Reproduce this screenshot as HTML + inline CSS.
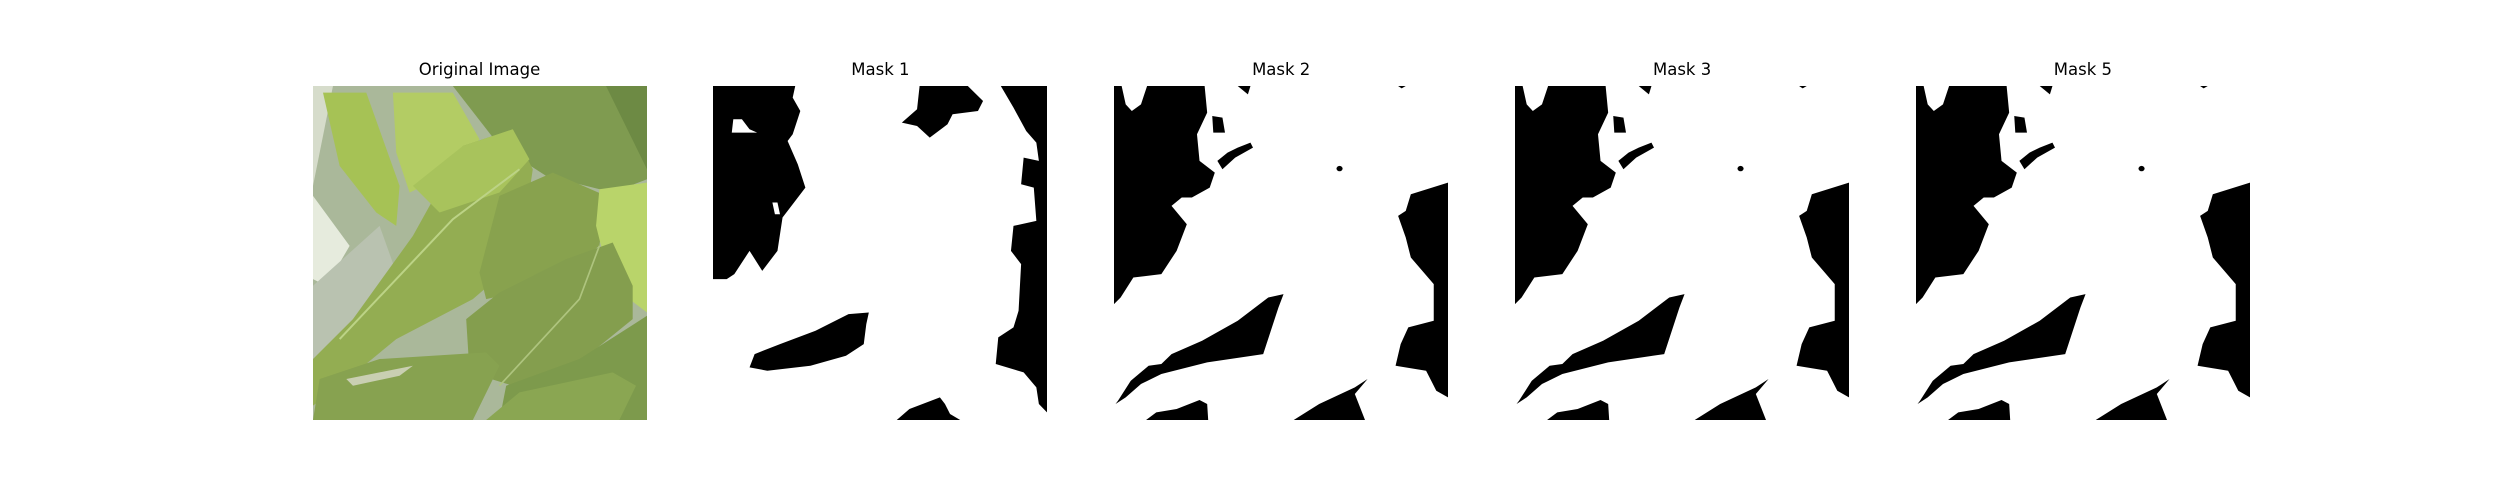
<!DOCTYPE html>
<html><head><meta charset="utf-8"><style>
html,body{margin:0;padding:0;background:#fff;}
#fig{position:relative;width:2500px;height:500px;background:#fff;overflow:hidden;font-family:"Liberation Sans","DejaVu Sans",sans-serif;}
.title{position:absolute;top:60px;width:334px;text-align:center;font-size:16.5px;color:#000;font-family:"DejaVu Sans","Liberation Sans",sans-serif;}
.panel{position:absolute;top:85.5px;width:334px;height:334px;}
</style></head><body>
<div id="fig">

<div class="title" style="left:312.5px">Original Image</div>
<div class="title" style="left:713.4px">Mask 1</div>
<div class="title" style="left:1114.2px">Mask 2</div>
<div class="title" style="left:1515.1px">Mask 3</div>
<div class="title" style="left:1915.9px">Mask 5</div>

<svg class="panel" style="left:312.5px" viewBox="0 0 1003 1003" preserveAspectRatio="none">
<rect width="1003" height="1003" fill="#aab89a"/>
<path d="M0 0 L60 0 L0 300 Z" fill="#d6dccb"/>
<path d="M0 330 L110 480 L40 600 L0 580 Z" fill="#e6ebdd"/>
<path d="M0 600 L200 420 L300 700 L0 900 Z" fill="#b9c2b0"/>
<path d="M30 20 L160 20 L260 300 L250 420 L190 380 L80 240 Z" fill="#a6c255"/>
<path d="M240 20 L420 20 L500 160 L420 260 L290 320 L250 200 Z" fill="#b3cc64"/>
<path d="M420 0 L1003 0 L1003 280 L900 320 L700 270 L560 180 Z" fill="#7f9b50"/>
<path d="M880 0 L1003 0 L1003 250 Z" fill="#6d8a44"/>
<path d="M0 820 L120 700 L300 450 L450 180 L600 130 L660 250 L620 520 L480 640 L250 760 L80 900 L0 960 Z" fill="#93ad52"/>
<path d="M300 300 L450 180 L600 130 L650 220 L560 320 L380 380 Z" fill="#a8c35c"/>
<path d="M560 330 L720 260 L880 330 L860 480 L700 600 L520 640 L500 560 Z" fill="#88a24e"/>
<path d="M860 310 L1003 290 L1003 680 L950 640 L880 540 L850 420 Z" fill="#b9d46a"/>
<path d="M460 700 L560 620 L760 520 L900 470 L960 600 L960 700 L800 830 L600 900 L470 860 Z" fill="#849e4e"/>
<path d="M580 900 L800 820 L1003 690 L1003 1003 L560 1003 Z" fill="#7d9a4c"/>
<path d="M0 1003 L20 880 L200 820 L520 800 L560 840 L480 1003 Z" fill="#87a250"/>
<path d="M520 1003 L620 920 L900 860 L970 900 L920 1003 Z" fill="#8aa652"/>
<path d="M100 880 L300 840 L260 870 L120 900 Z" fill="#c9cfb2"/>
<path d="M80 760 L420 400 L620 250" stroke="#bcd386" stroke-width="6" fill="none"/>
<path d="M560 900 L800 640 L860 480" stroke="#aec47e" stroke-width="5" fill="none"/>
</svg>

<svg class="panel" style="left:713.4px" viewBox="808 105 658 1003" preserveAspectRatio="none">
<rect x="808" y="105" width="658" height="1003" fill="#fff"/>
<g fill="#000">
<path d="M808 105 L970 105 L965 140 L980 180 L965 250 L955 270 L975 340 L990 410 L965 460 L945 500 L935 600 L905 660 L880 600 L850 670 L835 685 L808 685 Z"/>
<path d="M1215 105 L1310 105 L1340 150 L1330 180 L1280 190 L1270 220 L1235 260 L1210 225 L1180 215 L1210 175 Z"/>
<path d="M1375 105 L1466 105 L1466 1085 L1450 1060 L1445 1010 L1420 965 L1365 940 L1370 860 L1400 830 L1410 780 L1415 640 L1395 600 L1400 525 L1445 510 L1440 410 L1415 400 L1420 320 L1450 330 L1445 275 L1425 240 L1400 170 Z"/>
<path d="M1115 785 L1075 790 L1010 840 L940 880 L890 910 L880 950 L915 960 L1000 945 L1070 915 L1105 880 L1110 820 Z"/>
<path d="M1170 1108 L1195 1075 L1255 1040 L1265 1060 L1275 1090 L1295 1108 Z"/>
</g>
<g fill="#fff">
<path d="M848 205 L865 205 L880 235 L895 245 L845 245 Z"/>
<path d="M925 455 L935 455 L940 490 L930 490 Z"/>
</g>
</svg>

<svg width="0" height="0" style="position:absolute">
<defs>
<g id="m2">
<rect x="27" y="105" width="656" height="1003" fill="#fff"/>
<g fill="#000">
<path d="M27 105 L42 105 L50 160 L62 180 L80 160 L92 105 L205 105 L210 185 L190 250 L195 330 L225 365 L215 410 L180 440 L160 440 L140 465 L170 520 L150 600 L120 670 L65 680 L40 740 L27 760 Z"/>
<path d="M270 105 L295 105 L290 130 Z"/>
<path d="M683 395 L610 430 L600 480 L585 495 L600 560 L610 620 L655 700 L655 810 L605 830 L590 880 L580 945 L640 960 L660 1020 L683 1040 Z"/>
<path d="M360 730 L330 740 L270 810 L200 870 L140 910 L120 940 L95 945 L60 990 L35 1050 L30 1060 L50 1040 L80 1000 L120 970 L210 935 L320 910 L350 770 Z"/>
<path d="M90 1108 L110 1085 L150 1075 L195 1048 L210 1060 L212 1108 Z"/>
<path d="M380 1108 L430 1060 L500 1010 L525 985 L500 1030 L520 1108 Z"/>
<path d="M585 105 L600 105 L592 112 Z"/>
<path d="M220 195 L240 200 L245 245 L222 245 Z"/>
<path d="M230 330 L250 305 L270 290 L295 275 L300 290 L265 320 L240 355 Z"/>
<ellipse cx="470" cy="353" rx="6" ry="8"/>
</g>
</g>
</defs>
</svg>

<svg class="panel" style="left:1114.2px" viewBox="27 105 656 1003" preserveAspectRatio="none"><use href="#m2"/></svg>
<svg class="panel" style="left:1515.1px" viewBox="27 105 656 1003" preserveAspectRatio="none"><use href="#m2"/></svg>
<svg class="panel" style="left:1915.9px" viewBox="27 105 656 1003" preserveAspectRatio="none"><use href="#m2"/></svg>

</div>
</body></html>
